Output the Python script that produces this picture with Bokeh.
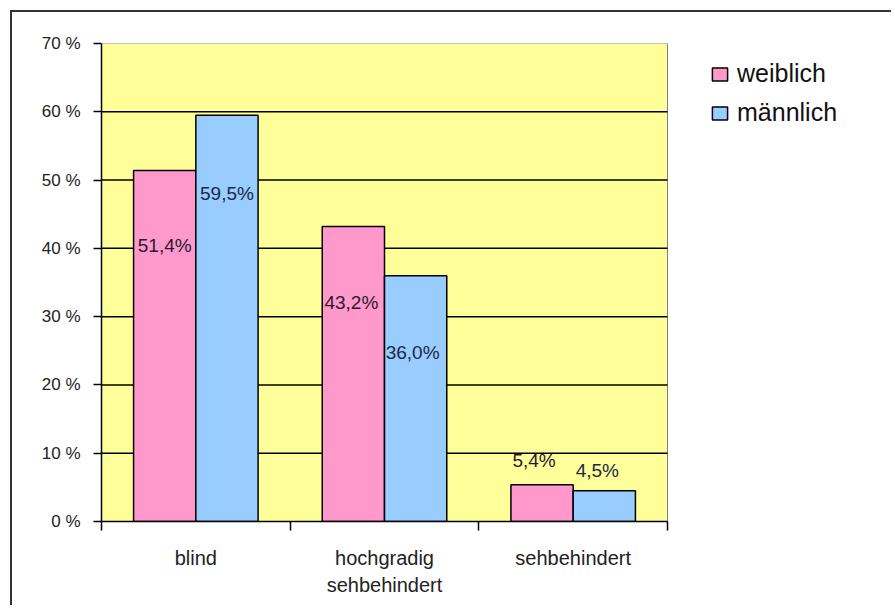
from bokeh.plotting import figure
from bokeh.models import (ColumnDataSource, Range1d, LinearAxis,
                          FixedTicker, Legend, LegendItem)
from bokeh.core.properties import value
from bokeh.embed import file_html
from bokeh.resources import INLINE

# ---- data ----
categories = ["blind", "hochgradig\nsehbehindert", "sehbehindert"]
weiblich = [51.4, 43.2, 5.4]
maennlich = [59.5, 36.0, 4.5]
series_names = ["weiblich", "männlich"]
y_ticks = [0, 10, 20, 30, 40, 50, 60, 70]
y_tick_labels = ["0 %", "10 %", "20 %", "30 %", "40 %", "50 %", "60 %", "70 %"]
# where the value labels sit (data units), as in the original
label_y_w = [40.4, 32.1, 8.9]
label_y_m = [48.0, 24.8, 7.5]

def fmt(v):
    return f"{v:.1f}%".replace(".", ",")

n = len(categories)
centers = [i + 0.5 for i in range(n)]
DODGE = 0.165
BAR_W = 0.33
Y_MAX = y_ticks[-1]

src = ColumnDataSource(dict(
    xw=[c - DODGE for c in centers], xm=[c + DODGE for c in centers],
    w=weiblich, m=maennlich,
    lw=[fmt(v) for v in weiblich], lm=[fmt(v) for v in maennlich],
    yw=label_y_w, ym=label_y_m,
    ow=[0, -2, -8], om=[0, -3, -7],
))

FONT = "Liberation Sans"
PINK = "#FF99CC"
BLUE = "#99CCFF"
YELLOW = "#FFFF99"

# frame extends to the right edge so the legend can sit beside the plot area
X_MAX = n * 792 / 566

p = figure(x_range=Range1d(0, X_MAX), y_range=Range1d(0, Y_MAX),
           width=881, height=595, output_backend="svg", toolbar_location=None,
           x_axis_location=None, y_axis_location="left",
           min_border_left=89, min_border_top=31, min_border_right=0,
           min_border_bottom=86, background_fill_color="white",
           border_fill_color="white")
p.margin = (10, 0, 0, 10)
p.styles = {"border-top": "2px solid #333", "border-left": "2px solid #333",
            "border-right": "none", "border-bottom": "none",
            "outline": "none"}
p.outline_line_color = None
p.xgrid.grid_line_color = None
p.ygrid.grid_line_color = None

# plot area background
p.quad(left=[0], right=[n], bottom=[0], top=[Y_MAX], fill_color=YELLOW,
       line_color="#808080", line_width=1)
# horizontal grid lines
grid_y = y_ticks[1:-1]
p.segment(x0=[0] * len(grid_y), x1=[n] * len(grid_y), y0=grid_y, y1=grid_y,
          line_color="black", line_width=1.5)

# y axis
yax = p.yaxis[0]
yax.ticker = FixedTicker(ticks=y_ticks)
yax.major_label_overrides = dict(zip(y_ticks, y_tick_labels))
yax.major_tick_out = 8
yax.major_tick_in = 0
yax.minor_tick_line_color = None
yax.axis_line_width = 1.5
yax.major_tick_line_width = 1.5
yax.major_label_text_font = FONT
yax.major_label_text_font_size = "17px"
yax.major_label_text_color = "#222222"
yax.major_label_standoff = 13

# x axis: tick marks at category edges
edges = list(range(n + 1))
edge_axis = LinearAxis(ticker=FixedTicker(ticks=edges), bounds=(0, n),
                       major_label_text_font_size="0px",
                       major_label_standoff=0,
                       major_tick_out=9, major_tick_in=0,
                       major_tick_line_width=1.5,
                       minor_tick_line_color=None, axis_line_width=1.5)
edge_axis.major_label_overrides = {e: "" for e in edges}
p.add_layout(edge_axis, "below")

# category labels at category centres
cat_axis = LinearAxis(ticker=FixedTicker(ticks=centers),
                      major_tick_line_color=None, axis_line_color=None,
                      minor_tick_line_color=None,
                      major_label_standoff=10,
                      major_label_text_font=FONT,
                      major_label_text_font_size="20px",
                      major_label_text_color="#222222",
                      major_label_text_line_height=1.25)
cat_axis.major_label_overrides = dict(zip(centers, categories))
p.add_layout(cat_axis, "below")

# bars
rw = p.vbar(x="xw", top="w", width=BAR_W, source=src,
            fill_color=PINK, line_color="black", line_width=1.5)
rm = p.vbar(x="xm", top="m", width=BAR_W, source=src,
            fill_color=BLUE, line_color="black", line_width=1.5)

# value labels
p.text(x="xw", y="yw", text="lw", x_offset="ow",
       source=src, text_align="center", text_baseline="middle",
       text_font=value(FONT), text_font_size="19px", text_color="#2a1a30")
p.text(x="xm", y="ym", text="lm", x_offset="om",
       source=src, text_align="center", text_baseline="middle",
       text_font=value(FONT), text_font_size="19px", text_color="#1a2a45")

legend = Legend(items=[LegendItem(label=series_names[0], renderers=[rw]),
                       LegendItem(label=series_names[1], renderers=[rm])],
                location=(609, 394), padding=0, margin=0, spacing=10,
                glyph_width=19, glyph_height=16, label_height=24,
                label_standoff=8, border_line_color=None,
                background_fill_alpha=0,
                label_text_font=FONT, label_text_font_size="25px",
                label_text_color="#111111")
p.add_layout(legend, "center")

open("out.html", "w").write(file_html(p, INLINE))
